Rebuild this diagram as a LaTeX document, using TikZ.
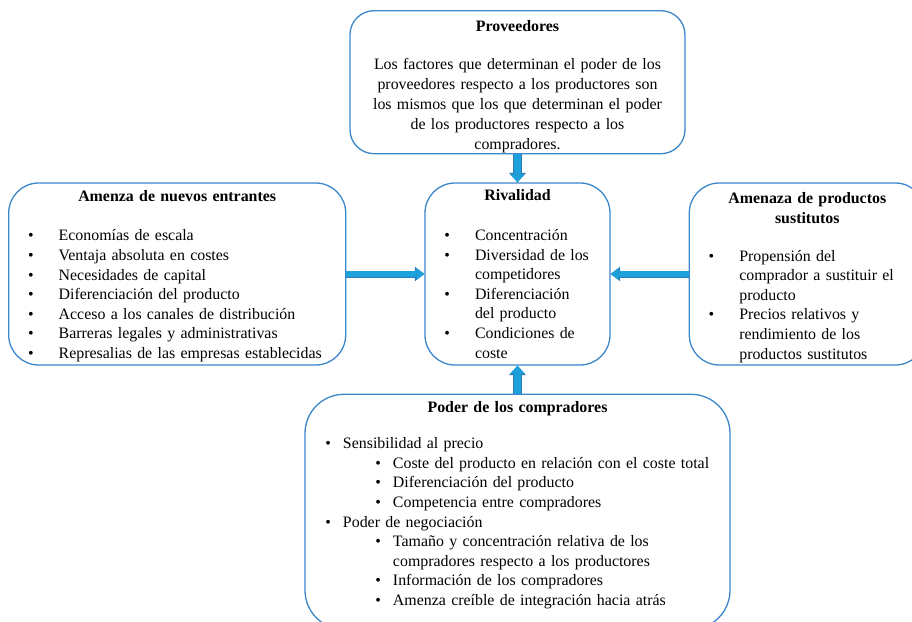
\documentclass[tikz,border=0pt]{standalone}
\usepackage{fontspec}
\setmainfont{Liberation Serif}
\usepackage{enumitem}
\usepackage{xcolor}
\usetikzlibrary{arrows.meta, positioning}

\definecolor{boxblue}{HTML}{3B87C9}
\definecolor{flowfill}{HTML}{1DA1DD}
\definecolor{flowedge}{HTML}{2E7CB6}

\setlist[itemize]{label=\textbullet, itemsep=0pt, topsep=0pt, parsep=0pt,
  partopsep=0pt, leftmargin=40pt, labelsep=25pt}

\begin{document}
\begin{tikzpicture}[
    node distance=28pt and 78pt,
    font=\fontsize{15.9pt}{19.6pt}\selectfont,
    card/.style={
      draw=boxblue, fill=white, line width=1.3pt,
      align=left, inner xsep=10pt, inner ysep=0pt
    },
    flowv/.style={
      draw=flowfill, line width=7pt,
      -{Triangle[length=8pt, width=14.5pt, line width=0pt]},
      preaction={draw=flowedge, line width=9pt,
        -{Triangle[length=9.5pt, width=17pt, line width=0pt]}}
    },
    flowh/.style={
      draw=flowfill, line width=5.4pt,
      -{Triangle[length=8pt, width=12pt, line width=0pt]},
      preaction={draw=flowedge, line width=7pt,
        -{Triangle[length=9.5pt, width=14.5pt, line width=0pt]}}
    }
  ]

    \useasboundingbox (-517.5pt,274pt) rectangle (394.5pt,-347pt);

    % --- Rivalidad ---
    \node[card, minimum width=185pt, minimum height=182pt, text width=165pt,
      rounded corners=30pt] (riv) at (0,0)
    {{\centering\bfseries Rivalidad\par}
     \vspace{20pt}
     \begin{itemize}
       \item Concentración
       \item Diversidad de los\newline competidores
       \item Diferenciación\newline del producto
       \item Condiciones de\newline coste
     \end{itemize}};

    % --- Proveedores ---
    \node[card, above=of riv, minimum width=335pt, minimum height=143pt,
      text width=315pt, rounded corners=24pt] (prov)
    {{\centering\fontsize{15.9pt}{20pt}\selectfont
      \textbf{Proveedores}\par\vspace{17.5pt}
      Los factores que determinan el poder de los\\
      proveedores respecto a los productores son\\
      los mismos que los que determinan el poder\\
      de los productores respecto a los\\
      compradores.\par}
     \kern-9pt};

    % --- Nuevos entrantes ---
    \node[card, left=of riv, minimum width=337pt, minimum height=182pt,
      text width=317pt, rounded corners=30pt] (entr)
    {{\centering\bfseries Amenza de nuevos entrantes\par}
     \vspace{20pt}
     \begin{itemize}
       \item Economías de escala
       \item Ventaja absoluta en costes
       \item Necesidades de capital
       \item Diferenciación del producto
       \item Acceso a los canales de distribución
       \item Barreras legales y administrativas
       \item Represalias de las empresas establecidas
     \end{itemize}
     \kern-4pt};

    % --- Sustitutos ---
    \node[card, right=of riv, minimum width=236pt, minimum height=182pt,
      text width=216pt, rounded corners=30pt] (sust)
    {{\centering\bfseries Amenaza de productos\\ sustitutos\par}
     \vspace{18.5pt}
     \begin{itemize}
       \item Propensión del\newline comprador a sustituir el\newline producto
       \item Precios relativos y\newline rendimiento de los\newline productos sustitutos
     \end{itemize}
     \kern-7pt};

    % --- Compradores ---
    \node[card, below=of riv, minimum width=425pt, minimum height=235pt,
      text width=405pt, rounded corners=39pt] (comp)
    {{\centering\bfseries Poder de los compradores\par}
     \vspace{16.5pt}
     \begin{itemize}[leftmargin=28pt, labelsep=12pt]
       \item Sensibilidad al precio
       \begin{itemize}[leftmargin=50pt, labelsep=12pt]
         \item Coste del producto en relación con el coste total
         \item Diferenciación del producto
         \item Competencia entre compradores
       \end{itemize}
       \item Poder de negociación
       \begin{itemize}[leftmargin=50pt, labelsep=12pt]
         \item Tamaño y concentración relativa de los\newline compradores respecto a los productores
         \item Información de los compradores
         \item Amenza creíble de integración hacia atrás
       \end{itemize}
     \end{itemize}
     \kern13pt};

    % --- Fuerzas hacia la rivalidad ---
    \draw[flowv] (prov) -- (riv);
    \draw[flowv] (comp) -- (riv);
    \draw[flowh] (entr) -- (riv);
    \draw[flowh] (sust) -- (riv);

  \end{tikzpicture}
\end{document}
